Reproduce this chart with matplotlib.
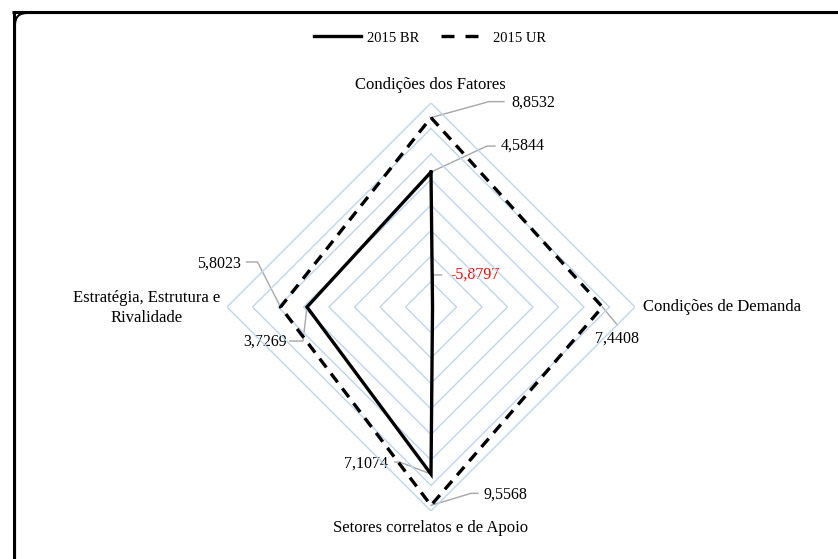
import numpy as np
import matplotlib
matplotlib.use("Agg")
import matplotlib.pyplot as plt
from matplotlib.patches import FancyBboxPatch
from matplotlib.lines import Line2D

plt.rcParams.update({
    "font.family": ["Liberation Serif", "DejaVu Serif"],
    "font.size": 11.5,
})

# Data
categories = ["Condições dos Fatores", "Condições de Demanda",
              "Setores correlatos e de Apoio", "Estratégia, Estrutura e\nRivalidade"]
br_2015 = [4.5844, -5.8797, 7.1074, 3.7269]
ur_2015 = [8.8532, 7.4408, 9.5568, 5.8023]
br_labels = ["4,5844", "-5,8797", "7,1074", "3,7269"]
ur_labels = ["8,8532", "7,4408", "9,5568", "5,8023"]
rings = [-6, -4, -2, 0, 2, 4, 6, 8, 10]

W, H = 838, 559
fig = plt.figure(figsize=(W / 100, H / 100), dpi=100)

# overlay in pixel coordinates for frame, labels and leader lines
ov = fig.add_axes([0, 0, 1, 1])
ov.set_xlim(0, W)
ov.set_ylim(H, 0)
ov.axis("off")

# radar axes: centre (431, 307), radius 204 px
cx, cy, R = 431, 307, 204
ax = fig.add_axes([(cx - R) / W, (H - cy - R) / H, 2 * R / W, 2 * R / H], projection="polar")
ax.set_theta_zero_location("N")
ax.set_theta_direction(-1)
ax.set_rlim(rings[0], rings[-1])
ax.grid(False)
ax.set_xticks([])
ax.set_yticks([])
ax.spines["polar"].set_visible(False)
ax.patch.set_alpha(0)

theta = np.deg2rad([0, 90, 180, 270])
theta_c = np.append(theta, theta[0])

for r in rings[1:]:
    ax.plot(theta_c, [r] * 5, color="#BFD5EE", lw=1.0, zorder=1)

dash = (0, (3.3, 2.3))
ax.plot(theta_c, br_2015 + br_2015[:1], color="black", lw=2.4, zorder=3,
        solid_joinstyle="miter")
ax.plot(theta_c, ur_2015 + ur_2015[:1], color="black", lw=2.4, zorder=3, linestyle=dash)

fig.canvas.draw()


def to_px(t, r):
    x, y = ax.transData.transform((t, r))
    return x, H - y


# leader offsets: elbow, end, text position, alignment
br_lead = [
    [(56, -26), (64, -26), (70, -26), "left"],
    [(1, -32), (9, -32), (18, -32), "left"],
    [(-31, -12), (-36, -12), (-43, -10), "right"],
    [(-4, 34), (-17, 34), (-20, 35), "right"],
]
ur_lead = [
    [(58, -16), (73, -16), (80, -15), "left"],
    [(15, 18), (15, 18), (15, 32), "center"],
    [(40, -12), (47, -12), (52, -11), "left"],
    [(-23, -45), (-34, -45), (-40, -43), "right"],
]

for vals, labs, leads in [(br_2015, br_labels, br_lead), (ur_2015, ur_labels, ur_lead)]:
    for t, v, lab, (e1, e2, tp, ha) in zip(theta, vals, labs, leads):
        px, py = to_px(t, v)
        ov.plot([px, px + e1[0], px + e2[0]], [py, py + e1[1], py + e2[1]],
                color="#A6A6A6", lw=1.0, zorder=4)
        col = "red" if v < 0 else "black"
        ov.text(px + tp[0], py + tp[1], lab, ha=ha, va="center", color=col, fontsize=11.5)

# category labels
ov.text(430, 85, categories[0], ha="center", va="center", fontsize=12)
ov.text(643, 307, categories[1], ha="left", va="center", fontsize=12)
ov.text(431, 528, categories[2], ha="center", va="center", fontsize=12)
ov.text(147, 308, categories[3], ha="center", va="center", fontsize=12, linespacing=1.3)

# legend
handles = [Line2D([], [], color="black", lw=2.4),
           Line2D([], [], color="black", lw=2.4, linestyle=(0, (3.9, 3.3)))]
fig.legend(handles, ["2015 BR", "2015 UR"], loc="center", bbox_to_anchor=(0.5135, 1 - 38 / H),
           ncol=2, frameon=False, handlelength=3.2, columnspacing=1.5, handletextpad=0.4,
           fontsize=10.5)

# chart frame
ov.plot([12, W], [11.5, 11.5], color="black", lw=2.2, solid_capstyle="butt")
ov.plot([13.5, 13.5], [11, H], color="black", lw=2.2, solid_capstyle="butt")
frame = FancyBboxPatch((15, 13), 860, 560, boxstyle="round,pad=0,rounding_size=12",
                       fill=False, ec="black", lw=1.5)
ov.add_patch(frame)

fig.savefig("out.png", dpi=100)
